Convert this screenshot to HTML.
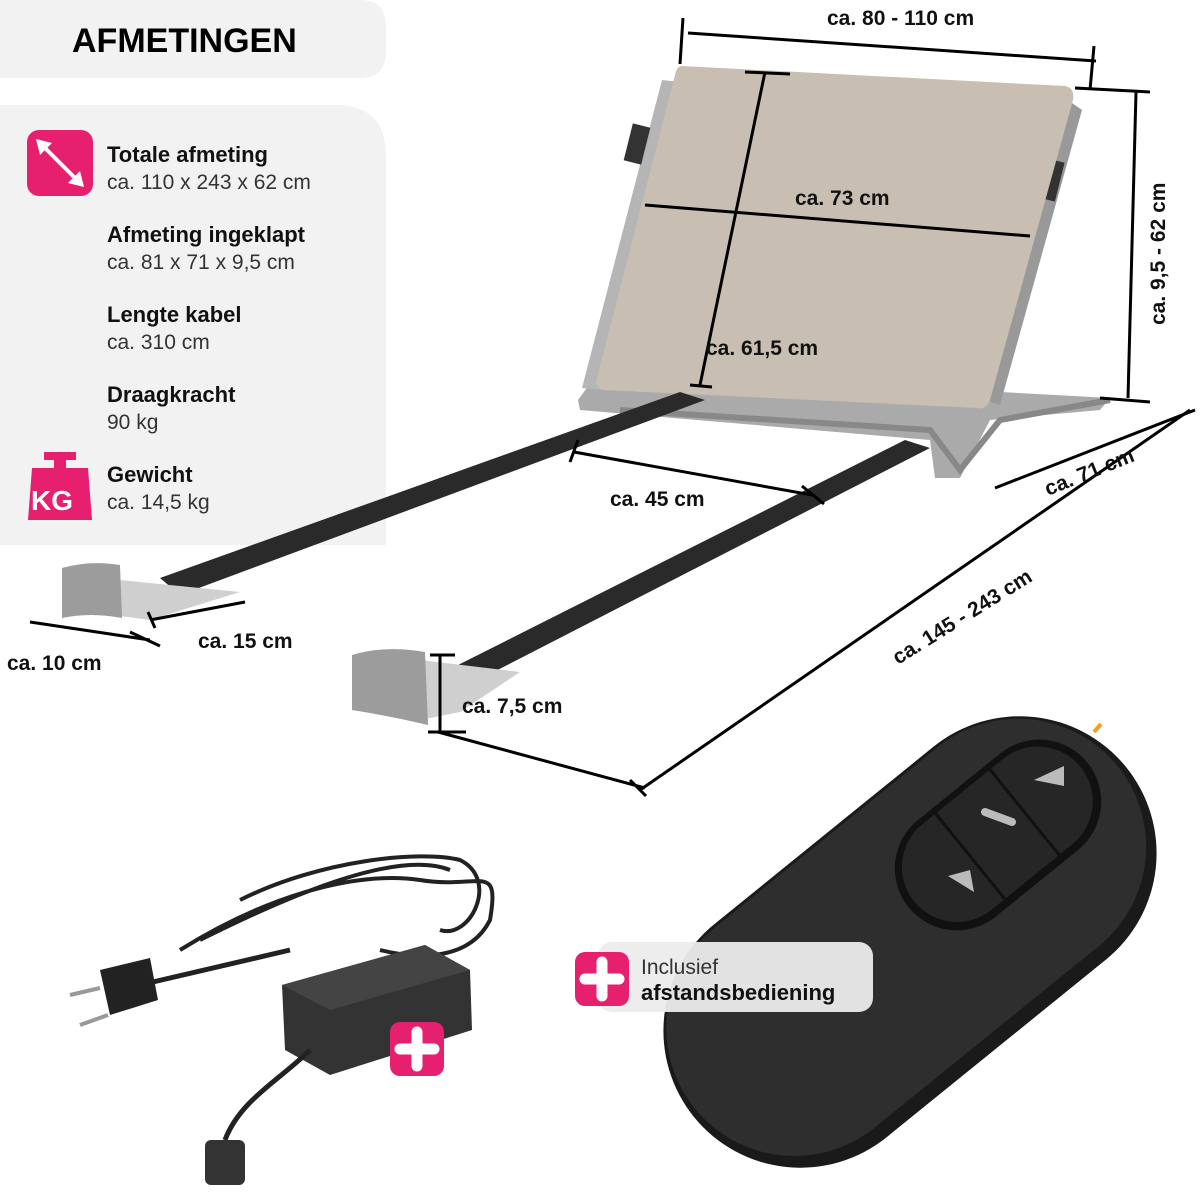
<!DOCTYPE html>
<html><head><meta charset="utf-8"><style>
body{margin:0;background:#fff;overflow:hidden;}
svg{display:block;font-family:"Liberation Sans",sans-serif;}
.b{font-weight:bold;font-size:21px;fill:#111;}
.h{font-weight:bold;font-size:22px;fill:#111;}
.n{font-size:21px;fill:#333;}
.d{stroke:#000;stroke-width:3;fill:none;}
</style></head><body>
<svg width="1200" height="1200" viewBox="0 0 1200 1200">
<path d="M0 0 H360 Q386 0 386 26 V52 Q386 78 360 78 H0Z" fill="#f2f2f2"/>
<path d="M0 105 H335 Q386 105 386 156 V545 H0Z" fill="#f2f2f2"/>
<text x="72" y="52" font-size="34" font-weight="bold" fill="#000">AFMETINGEN</text>
<rect x="27" y="130" width="66" height="66" rx="12" fill="#e6206f"/>
<path d="M38 141 L82 185" stroke="#fff" stroke-width="4"/>
<path d="M36 139 L52 143 L40 155Z M84 187 L68 183 L80 171Z" fill="#fff"/>
<path d="M44 452 h32 v8 h-10 v8 h22 l4 52 h-64 l4 -52 h22 v-8 h-10z" fill="#e6206f"/>
<text x="31" y="510" font-size="28" font-weight="bold" fill="#fff">KG</text>
<text x="107" y="162" class="h">Totale afmeting</text><text x="107" y="189" class="n">ca. 110 x 243 x 62 cm</text>
<text x="107" y="242" class="h">Afmeting ingeklapt</text><text x="107" y="269" class="n">ca. 81 x 71 x 9,5 cm</text>
<text x="107" y="322" class="h">Lengte kabel</text><text x="107" y="349" class="n">ca. 310 cm</text>
<text x="107" y="402" class="h">Draagkracht</text><text x="107" y="429" class="n">90 kg</text>
<text x="107" y="482" class="h">Gewicht</text><text x="107" y="509" class="n">ca. 14,5 kg</text>

<path d="M578 400 L600 370 L1110 398 L1100 410 L990 420 L960 478 L935 478 L930 440 L580 410Z" fill="#aaa"/>
<path d="M620 410 L930 430 L960 470 L1000 420 L1110 400" stroke="#888" stroke-width="6" fill="none"/>
<path d="M662 80 L680 82 L600 390 L582 388Z" fill="#b5b5b5"/>
<path d="M1065 98 L1082 110 L1000 405 L985 400Z" fill="#999"/>
<rect x="628" y="125" width="18" height="38" fill="#333" transform="rotate(14 637 144)"/>
<rect x="1042" y="160" width="18" height="40" fill="#333" transform="rotate(14 1051 180)"/>
<path d="M682 66 L1065 86 Q1075 88 1073 100 L990 400 Q987 410 977 408 L604 390 Q594 389 597 378 L675 75 Q677 66 682 66Z" fill="#c8bfb2"/>
<path d="M680 392 L705 400 L180 595 L160 578Z" fill="#2a2a2a"/>
<path d="M905 440 L930 448 L478 680 L458 665Z" fill="#2a2a2a"/>
<path d="M120 580 L240 592 L150 620 L120 616Z" fill="#cfcfcf"/>
<path d="M62 568 Q90 560 120 565 L122 618 Q90 612 62 618Z" fill="#9c9c9c"/>
<path d="M420 660 L520 672 L460 712 L420 720Z" fill="#cfcfcf"/>
<path d="M352 655 Q385 645 425 652 L428 725 Q390 716 352 710Z" fill="#9c9c9c"/>
<path class="d" d="M688 33 L1096 61 M683 18 L680 64 M1094 46 L1090 90"/>
<path class="d" d="M1136 92 L1128 398 M1075 88 L1150 92 M1100 398 L1150 402"/>
<path class="d" d="M765 72 L700 385 M745 72 L790 74 M690 385 L712 387"/>
<path class="d" d="M645 205 L1030 236"/>
<path class="d" d="M574 452 L812 495 M578 440 L570 462 M802 486 L824 504"/>
<path class="d" d="M995 488 L1195 410"/>
<path class="d" d="M1190 410 L640 790 M438 732 L645 788 M630 780 L646 796"/>
<path class="d" d="M30 622 L150 640 M130 632 L160 646"/>
<path class="d" d="M150 620 L245 602 M148 612 L155 628"/>
<path class="d" d="M440 655 L440 732 M430 655 L455 655 M428 732 L466 732"/>
<text x="827" y="25" class="b">ca. 80 - 110 cm</text>
<text x="1165" y="325" class="b" transform="rotate(-90 1165 325)">ca. 9,5 - 62 cm</text>
<text x="795" y="205" class="b">ca. 73 cm</text>
<text x="706" y="355" class="b">ca. 61,5 cm</text>
<text x="610" y="506" class="b">ca. 45 cm</text>
<text x="1048" y="496" class="b" transform="rotate(-22 1048 496)">ca. 71 cm</text>
<text x="898" y="665" class="b" transform="rotate(-32 898 665)">ca. 145 - 243 cm</text>
<text x="198" y="648" class="b">ca. 15 cm</text>
<text x="7" y="670" class="b">ca. 10 cm</text>
<text x="462" y="713" class="b">ca. 7,5 cm</text>
<g transform="rotate(-39 910 942)">
<rect x="632" y="805" width="556" height="274" rx="137" fill="#1a1a1a"/>
<rect x="638" y="808" width="544" height="256" rx="128" fill="#2e2e2e"/>
</g>
<g transform="rotate(-39 998 835)">
<rect x="883" y="773" width="230" height="124" rx="62" fill="#111"/>
<rect x="891" y="779" width="214" height="110" rx="55" fill="#262626"/>
<path d="M963 779 V889 M1033 779 V889" stroke="#111" stroke-width="3"/>
</g>
<path d="M1034 780 L1064 766 L1064 786Z M970 870 L948 876 L974 892Z" fill="#bbb"/>
<path d="M985 812 L1012 822" stroke="#bbb" stroke-width="8" stroke-linecap="round"/>
<path d="M1094 732 L1101 724" stroke="#f0a020" stroke-width="4"/>
<rect x="598" y="942" width="275" height="70" rx="14" fill="#ececec" opacity="0.95"/>
<rect x="575" y="952" width="54" height="54" rx="10" fill="#e6206f"/>
<path d="M602 962 V996 M585 979 H619" stroke="#fff" stroke-width="11" stroke-linecap="round"/>
<text x="641" y="974" font-size="21" fill="#333">Inclusief</text>
<text x="641" y="1000" font-size="22" font-weight="bold" fill="#111">afstandsbediening</text>
<path d="M180 950 C260 900 350 870 420 880 C480 890 500 860 490 920 C470 960 420 960 380 950 M200 940 C300 890 400 850 450 870" stroke="#222" stroke-width="4" fill="none"/>
<path d="M240 900 C320 860 420 850 460 860 C500 880 470 940 440 930" stroke="#222" stroke-width="4" fill="none"/>
<path d="M140 985 L290 950" stroke="#222" stroke-width="5"/>
<path d="M100 970 L150 958 L158 1000 L110 1015Z" fill="#222"/>
<path d="M70 995 L100 988 M80 1025 L108 1015" stroke="#999" stroke-width="4"/>
<path d="M282 985 L425 945 L470 970 L472 1030 L330 1075 L285 1050Z" fill="#333"/>
<path d="M282 985 L425 945 L470 970 L330 1010Z" fill="#444"/>
<path d="M310 1050 C280 1080 240 1100 225 1140" stroke="#222" stroke-width="5" fill="none"/>
<rect x="205" y="1140" width="40" height="45" rx="6" fill="#333"/>
<rect x="390" y="1022" width="54" height="54" rx="10" fill="#e6206f"/>
<path d="M417 1032 V1066 M400 1049 H434" stroke="#fff" stroke-width="11" stroke-linecap="round"/>
</svg>
</body></html>
